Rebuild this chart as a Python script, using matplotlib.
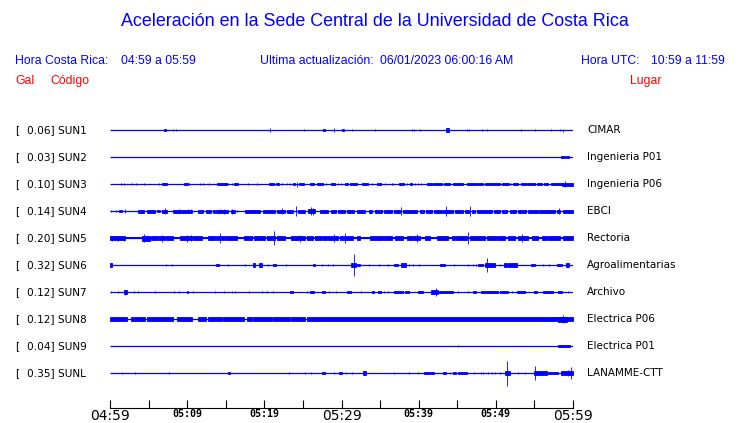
import matplotlib
matplotlib.use("Agg")
import matplotlib.pyplot as plt

# station info
codes = ["SUN1", "SUN2", "SUN3", "SUN4", "SUN5", "SUN6", "SUN7", "SUN8", "SUN9", "SUNL"]
peaks = ["0.06", "0.03", "0.10", "0.14", "0.20", "0.32", "0.12", "0.12", "0.04", "0.35"]
places = ["CIMAR", "Ingenieria P01", "Ingenieria P06", "EBCI", "Rectoria",
          "Agroalimentarias", "Archivo", "Electrica P06", "Electrica P01", "LANAMME-CTT"]

# background noise level of each trace (same units as events)
noise = [0, 0, 0, 0, 1.0, 0, 0, 0, 0, 0]

# bursts: (start min, end min, amplitude), minutes after 04:59
sun1 = [(7.0, 7.3, 1.3), (8.2, 8.2, 1.0), (8.55, 8.55, 1.0), (20.7, 20.7, 2.2), (25.2, 25.2, 1.2),
        (27.6, 27.9, 1.3), (29.0, 29.0, 2.0), (30.0, 30.3, 1.3), (31.4, 31.4, 1.0), (34.4, 34.4, 1.2),
        (39.2, 39.2, 1.0), (39.45, 39.45, 1.0), (40.2, 40.2, 1.2), (43.5, 43.9, 2.0), (46.2, 46.2, 1.2),
        (46.55, 46.55, 1.2), (48.25, 48.25, 0.8), (48.9, 48.9, 1.2), (53.3, 53.3, 1.2), (55.1, 55.1, 0.8),
        (57.1, 57.1, 1.2), (58.3, 58.3, 1.2), (58.65, 58.65, 1.5)]
sun2 = [(58.5, 58.95, 1.3), (59.1, 59.45, 1.3)]
sun3 = [(1.45, 1.45, 1.0), (1.85, 1.85, 1.0), (2.8, 2.8, 1.0), (3.35, 3.35, 1.0), (4.4, 4.4, 1.3),
        (6.4, 6.4, 1.0), (6.8, 7.45, 1.3), (9.6, 10.05, 1.3), (10.3, 10.3, 1.0), (11.6, 11.6, 1.0),
        (12.0, 12.0, 1.0), (12.8, 12.8, 1.0), (13.9, 15.1, 1.2), (15.3, 15.3, 1.0), (15.8, 15.8, 1.0),
        (16.1, 16.6, 1.2), (17.85, 17.85, 1.0), (19.0, 19.0, 1.0), (20.65, 21.2, 1.3), (21.45, 21.95, 1.3),
        (22.25, 22.25, 1.0), (22.95, 22.95, 1.0), (23.3, 23.3, 1.0), (23.75, 24.0, 1.2), (24.25, 24.25, 2.5),
        (24.5, 25.15, 1.3), (25.9, 26.5, 1.3), (26.8, 27.65, 1.3), (28.0, 28.0, 1.0), (28.65, 29.15, 1.3),
        (29.6, 29.6, 1.0), (29.95, 29.95, 1.0), (30.45, 30.9, 1.3), (31.1, 31.95, 1.3), (32.7, 33.4, 1.3),
        (33.9, 33.9, 1.0), (34.55, 35.1, 1.3), (35.65, 35.65, 1.0), (36.5, 36.5, 1.0), (36.7, 36.7, 1.0),
        (37.5, 38.05, 1.3), (38.45, 38.45, 1.0), (38.9, 39.2, 1.2), (39.55, 39.55, 1.0), (39.95, 39.95, 1.0),
        (40.3, 40.3, 1.0), (41.1, 41.75, 1.3), (41.9, 43.0, 1.3), (43.3, 44.05, 1.3), (44.45, 45.8, 1.3),
        (46.25, 47.5, 1.3), (47.65, 48.4, 1.3), (48.6, 50.6, 1.3), (50.85, 51.7, 1.3), (51.95, 51.95, 1.0),
        (52.25, 52.9, 1.3), (53.25, 53.85, 1.3), (54.1, 55.05, 1.3), (55.3, 55.95, 1.3), (56.3, 56.8, 1.3),
        (57.15, 58.55, 1.3), (58.6, 60.0, 1.5), (58.9, 58.9, 3.3)]
sun4 = [(0.15, 0.15, 1.0), (0.8, 0.8, 1.0), (1.2, 1.5, 1.3), (1.9, 1.9, 2.3), (3.65, 4.4, 1.5),
        (4.85, 5.85, 1.5), (6.05, 6.5, 1.3), (6.8, 7.35, 1.5), (7.1, 7.1, 3.0), (8.1, 10.65, 1.5),
        (8.95, 8.95, 2.3), (10.05, 10.05, 2.3), (10.5, 10.5, 2.0), (11.35, 12.1, 1.5), (12.45, 13.1, 1.5),
        (13.3, 13.6, 1.5), (13.7, 15.35, 1.5), (14.25, 14.25, 2.3), (14.8, 14.8, 2.5), (15.7, 16.2, 1.5),
        (15.75, 15.75, 2.5), (16.4, 16.4, 1.2), (17.5, 19.45, 1.5), (19.85, 21.4, 1.5), (21.6, 22.7, 1.5),
        (22.35, 22.35, 3.0), (22.9, 23.75, 1.5), (24.15, 24.15, 5.3), (24.3, 25.25, 1.5), (25.6, 26.55, 1.8),
        (26.05, 26.05, 4.0), (26.3, 26.3, 3.5), (27.2, 28.2, 1.5), (28.7, 29.35, 1.5), (29.6, 30.45, 1.5),
        (30.65, 31.65, 1.5), (31.95, 33.05, 1.5), (33.5, 33.9, 1.5), (34.35, 35.3, 1.5), (35.5, 36.5, 1.5),
        (36.75, 37.6, 1.5), (37.7, 37.7, 4.0), (38.0, 39.75, 1.5), (40.15, 40.7, 1.5), (40.9, 41.7, 1.5),
        (42.05, 43.0, 1.5), (43.2, 44.5, 1.5), (43.5, 43.5, 5.0), (44.7, 45.8, 1.5), (46.0, 46.5, 1.5),
        (46.7, 46.7, 5.0), (46.85, 47.3, 1.5), (47.6, 49.45, 1.5), (49.7, 50.55, 1.5), (50.85, 51.4, 1.5),
        (51.85, 52.55, 1.5), (52.9, 53.85, 1.5), (54.2, 55.4, 1.5), (55.65, 57.65, 1.5), (57.95, 58.3, 1.5),
        (58.15, 58.15, 3.0), (58.7, 60.0, 1.5)]
sun5 = [(0.0, 1.95, 1.8), (0.3, 0.3, 2.5), (1.1, 1.1, 2.5), (1.85, 1.85, 2.5), (4.1, 5.2, 2.5),
        (4.45, 4.45, 4.0), (5.3, 6.25, 2.3), (6.35, 7.15, 2.3), (6.7, 6.7, 3.5), (7.25, 8.2, 2.3),
        (9.05, 9.7, 2.3), (9.7, 10.6, 2.3), (9.95, 9.95, 3.5), (10.5, 10.5, 3.3), (10.8, 11.9, 2.3),
        (12.75, 13.6, 2.3), (13.8, 14.9, 2.3), (14.25, 14.25, 5.0), (15.0, 16.4, 2.3), (17.4, 18.35, 2.3),
        (18.7, 20.1, 2.3), (20.3, 21.4, 2.3), (21.3, 21.3, 7.3), (21.6, 22.7, 2.3), (23.45, 24.2, 2.3),
        (24.2, 25.25, 2.3), (24.6, 24.6, 3.5), (25.5, 26.35, 2.3), (26.55, 27.45, 2.3), (27.65, 28.1, 2.3),
        (28.2, 29.6, 2.3), (29.05, 29.05, 4.0), (29.8, 31.55, 2.3), (30.45, 30.45, 5.0), (31.95, 32.4, 2.3),
        (33.7, 35.4, 2.3), (35.55, 36.5, 2.3), (36.95, 38.0, 2.3), (38.45, 39.1, 2.3), (39.3, 40.15, 2.3),
        (39.75, 39.75, 4.0), (40.8, 41.45, 2.3), (42.35, 43.85, 2.3), (44.3, 44.7, 2.3), (44.9, 46.2, 2.3),
        (46.45, 46.45, 6.0), (46.65, 48.6, 2.3), (48.8, 50.1, 2.3), (50.3, 51.2, 2.3), (51.6, 52.5, 2.3),
        (52.9, 54.2, 2.3), (53.35, 53.35, 4.0), (54.65, 55.5, 2.3), (55.95, 56.6, 2.3), (56.8, 58.3, 2.3),
        (58.75, 60.0, 2.3)]
sun6 = [(0.05, 0.3, 2.0), (7.2, 7.2, 1.0), (8.0, 8.0, 1.0), (13.8, 14.15, 1.3), (15.35, 15.35, 1.0),
        (17.5, 17.5, 1.0), (18.5, 18.8, 2.0), (19.35, 19.75, 2.3), (20.5, 20.5, 1.0), (21.1, 21.45, 1.3),
        (22.8, 22.8, 1.3), (26.25, 26.55, 1.3), (27.5, 27.5, 0.7), (28.2, 28.2, 1.0), (28.95, 28.95, 0.7),
        (31.2, 31.85, 1.7), (31.65, 31.65, 11.0), (32.05, 32.4, 1.3), (33.6, 33.6, 1.0), (34.8, 34.8, 0.7),
        (36.05, 36.05, 0.7), (36.85, 37.35, 1.0), (37.7, 38.3, 2.0), (38.8, 38.8, 1.0), (39.3, 39.3, 1.0),
        (40.05, 40.05, 1.0), (42.75, 43.35, 1.3), (44.6, 44.6, 1.3), (46.45, 46.45, 1.0), (47.1, 47.1, 1.0),
        (47.45, 47.45, 1.0), (47.75, 48.4, 1.3), (48.6, 49.9, 1.7), (48.9, 48.9, 7.0), (50.55, 50.55, 1.0),
        (51.0, 51.4, 2.0), (51.6, 52.8, 1.7), (54.55, 55.05, 1.3), (56.05, 56.05, 1.0), (56.95, 56.95, 1.0),
        (57.9, 58.55, 1.3), (59.1, 59.5, 2.0)]
sun7 = [(0.15, 0.15, 0.7), (1.0, 1.0, 1.0), (1.85, 2.2, 2.0), (2.0, 2.0, 2.5), (3.15, 3.15, 1.0),
        (3.65, 3.65, 1.3), (5.85, 5.85, 1.3), (8.35, 8.35, 1.0), (8.95, 8.95, 1.0), (9.95, 10.15, 1.3),
        (10.8, 10.8, 1.3), (13.6, 13.6, 1.0), (14.8, 14.8, 1.0), (15.75, 15.75, 0.7), (16.2, 16.2, 0.7),
        (17.95, 17.95, 0.7), (19.65, 19.65, 1.3), (20.3, 20.3, 1.0), (21.1, 21.1, 1.0), (23.35, 23.75, 1.3),
        (25.5, 25.5, 1.0), (25.9, 26.5, 1.3), (27.5, 27.85, 1.3), (28.4, 28.4, 1.0), (29.35, 29.35, 1.0),
        (30.65, 31.25, 1.3), (32.5, 32.5, 1.3), (33.9, 34.25, 1.3), (34.7, 35.1, 1.3), (35.55, 35.55, 1.3),
        (36.05, 36.05, 1.3), (36.85, 38.0, 1.3), (38.25, 38.75, 1.3), (39.95, 40.5, 1.3), (41.6, 42.55, 1.7),
        (42.25, 42.25, 4.3), (42.55, 44.5, 1.3), (45.15, 45.15, 1.0), (46.35, 46.35, 1.0), (47.1, 47.4, 1.0),
        (48.05, 50.3, 1.3), (50.55, 51.6, 1.3), (52.05, 52.05, 1.0), (52.7, 53.8, 1.3), (55.0, 55.3, 1.3),
        (56.05, 57.45, 1.3), (58.1, 58.55, 1.3), (59.4, 59.4, 1.3)]
sun8 = [(0.0, 2.15, 1.8), (2.7, 4.55, 1.8), (4.75, 8.2, 1.8), (8.65, 10.65, 1.8), (11.45, 12.5, 1.8),
        (12.75, 14.45, 1.8), (14.7, 17.4, 1.8), (17.7, 18.35, 1.8), (18.55, 20.95, 1.8), (21.15, 23.35, 1.8),
        (23.45, 25.25, 1.8), (25.5, 60.0, 1.8), (38.55, 38.55, 2.3), (45.15, 45.15, 2.0), (46.55, 46.55, 2.0),
        (55.65, 55.65, 2.0), (56.6, 56.6, 2.0), (56.95, 56.95, 2.0), (58.1, 59.2, 2.5), (58.65, 58.65, 4.3)]
sun9 = [(45.15, 45.15, 1.0), (58.1, 59.6, 1.3)]
sunl = [(1.6, 1.6, 1.0), (3.3, 3.3, 1.0), (7.7, 7.7, 1.0), (15.35, 15.6, 1.3), (23.25, 23.25, 0.7),
        (25.25, 25.25, 0.7), (26.05, 26.05, 0.7), (27.5, 27.85, 1.3), (29.05, 29.05, 1.0), (29.7, 30.0, 1.3),
        (30.6, 30.6, 1.0), (31.3, 31.3, 1.0), (32.75, 33.2, 1.7), (36.75, 36.75, 1.0), (38.8, 38.8, 1.0),
        (39.85, 39.85, 1.0), (40.75, 42.05, 1.3), (43.2, 43.6, 1.3), (44.05, 44.05, 1.0), (44.5, 44.9, 1.3),
        (45.15, 46.2, 1.3), (47.2, 47.2, 1.0), (48.05, 48.05, 1.0), (48.4, 48.4, 1.0), (48.95, 48.95, 1.0),
        (49.45, 49.45, 1.0), (49.9, 49.9, 1.0), (50.55, 50.55, 1.0), (51.2, 51.85, 1.7), (51.5, 51.5, 12.5),
        (52.9, 52.9, 1.0), (53.8, 53.8, 0.7), (55.0, 56.6, 1.7), (55.1, 55.1, 7.0), (56.8, 58.1, 1.0),
        (58.45, 60.0, 1.7), (59.3, 59.3, 3.0), (59.75, 59.75, 6.0)]
events = [sun1, sun2, sun3, sun4, sun5, sun6, sun7, sun8, sun9, sunl]

tick_minutes = [0, 5, 10, 15, 20, 25, 30, 35, 40, 45, 50, 55, 60]
tick_labels = ["04:59", "", "05:09", "", "05:19", "", "05:29", "", "05:39", "", "05:49", "", "05:59"]
big_labels = ["04:59", "05:29", "05:59"]

BLUE = "#0000ff"
RED = "#ff0000"
W, H = 740, 423

fig = plt.figure(figsize=(W / 100, H / 100), dpi=100)
sans = "Liberation Sans"


def fx(px):
    return px / W


def fy(py):
    return 1 - py / H


# header
fig.text(fx(375), fy(21), "Aceleración en la Sede Central de la Universidad de Costa Rica",
         ha="center", va="center", color=BLUE, fontsize=12.9, family=sans)
hdr = [(15, "Hora Costa Rica:"), (121, "04:59 a 05:59"), (260, "Ultima actualización:"),
       (380, "06/01/2023 06:00:16 AM"), (581, "Hora UTC:"), (651, "10:59 a 11:59")]
for x, t in hdr:
    fig.text(fx(x), fy(61), t, ha="left", va="center", color=BLUE, fontsize=8.8, family=sans)
for x, t in [(15, "Gal"), (50, "Código"), (630, "Lugar")]:
    fig.text(fx(x), fy(81), t, ha="left", va="center", color=RED, fontsize=8.8, family=sans)

# trace axes, y in pixel units (down)
ax = fig.add_axes([fx(110), 15 / H, (573 - 110) / W, (408 - 116) / H])
ax.set_xlim(0, 60)
ax.set_ylim(408, 116)
spacing = 27
for i in range(len(codes)):
    yc = 130 + spacing * i
    ax.plot([0, 60], [yc, yc], color=BLUE, lw=0.9, solid_capstyle="butt")
    if noise[i] > 0:
        ax.bar(0, 2 * noise[i], width=60, bottom=yc - noise[i], align="edge",
               color=BLUE, linewidth=0)
    ev = events[i]
    starts = [e[0] for e in ev]
    widths = [e[1] - e[0] for e in ev]
    amps = [e[2] for e in ev]
    ax.bar(starts, [2 * a for a in amps], width=widths, bottom=[yc - a for a in amps],
           align="edge", color=BLUE, edgecolor=BLUE, linewidth=0.6, clip_on=False)

    fig.text(fx(15), fy(yc), "[", ha="left", va="center", fontsize=7.6, family="DejaVu Sans")
    fig.text(fx(27), fy(yc), peaks[i] + "] " + codes[i], ha="left", va="center",
             fontsize=7.6, family="DejaVu Sans")
    fig.text(fx(587), fy(yc), places[i], ha="left", va="center", fontsize=7.5,
             family="DejaVu Sans")

for s in ["left", "right", "top"]:
    ax.spines[s].set_visible(False)
ax.spines["bottom"].set_linewidth(0.8)
ax.set_yticks([])
ax.set_xticks(tick_minutes)
ax.set_xticklabels(tick_labels)
ax.tick_params(axis="x", direction="in", length=6, width=0.8, pad=1)
for lab in ax.get_xticklabels():
    if lab.get_text() in big_labels:
        lab.set_fontsize(10)
    else:
        lab.set_fontsize(7.2)
        lab.set_family("DejaVu Sans Mono")
        lab.set_fontweight("bold")

fig.savefig("out.png", dpi=100)
